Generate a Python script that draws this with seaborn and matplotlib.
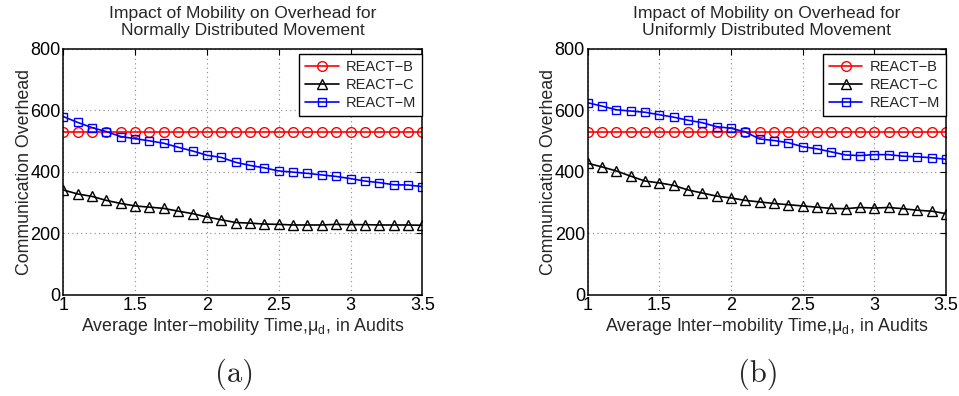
import numpy as np
import pandas as pd
import matplotlib
matplotlib.use("Agg")
import matplotlib.pyplot as plt
import seaborn as sns

# x axis: average inter-mobility time (audits)
x_vals = [1.0, 1.1, 1.2, 1.3, 1.4, 1.5, 1.6, 1.7, 1.8, 1.9, 2.0, 2.1, 2.2,
          2.3, 2.4, 2.5, 2.6, 2.7, 2.8, 2.9, 3.0, 3.1, 3.2, 3.3, 3.4, 3.5]

# (a) normally distributed movement
norm_b = [530, 530, 530, 530, 530, 530, 530, 530, 530, 530, 530, 530, 530,
          530, 530, 530, 530, 530, 530, 530, 530, 530, 530, 530, 530, 530]
norm_c = [341, 328, 320, 307, 297, 289, 285, 281, 272, 264, 253, 244, 235,
          233, 230, 229, 227, 227, 227, 229, 228, 228, 227, 227, 227, 226]
norm_m = [580, 561, 544, 531, 515, 508, 501, 493, 480, 468, 454, 447, 431,
          421, 413, 403, 399, 395, 390, 385, 378, 370, 365, 358, 357, 352]

# (b) uniformly distributed movement
unif_b = [530, 530, 530, 530, 530, 530, 530, 530, 530, 530, 530, 530, 530,
          530, 530, 530, 530, 530, 530, 530, 530, 530, 530, 530, 530, 530]
unif_c = [428, 416, 403, 386, 370, 364, 356, 341, 331, 321, 315, 307, 302,
          297, 293, 289, 285, 281, 280, 284, 282, 284, 280, 275, 272, 264]
unif_m = [625, 614, 602, 598, 594, 586, 578, 568, 560, 547, 542, 530, 507,
          502, 495, 482, 475, 465, 455, 453, 456, 456, 451, 449, 446, 441]

series_names = ["REACT\u2212B", "REACT\u2212C", "REACT\u2212M"]
titles = ["Impact of Mobility on Overhead for\nNormally Distributed Movement",
          "Impact of Mobility on Overhead for\nUniformly Distributed Movement"]
panel_tags = ["(a)", "(b)"]
x_ticks = [1, 1.5, 2, 2.5, 3, 3.5]
x_ticklabels = ["1", "1.5", "2", "2.5", "3", "3.5"]
y_ticks = [0, 200, 400, 600, 800]

sns.set_style("white")
plt.rcParams["font.family"] = ["Liberation Sans", "DejaVu Sans"]
plt.rcParams["mathtext.fontset"] = "custom"
plt.rcParams["mathtext.rm"] = "Liberation Sans"

styles = [("red", "o", 7), ("black", "^", 7.5), ("blue", "s", 6)]

fig = plt.figure(figsize=(9.59, 3.96), dpi=100)
ax_pos = [[0.0660, 0.2558, 0.3744, 0.6205],
          [0.6128, 0.2558, 0.3735, 0.6205]]

panels = [(norm_b, norm_c, norm_m), (unif_b, unif_c, unif_m)]

for i, data in enumerate(panels):
    ax = fig.add_axes(ax_pos[i])
    df = pd.DataFrame({"x": x_vals, series_names[0]: data[0],
                       series_names[1]: data[1], series_names[2]: data[2]})
    for name, (col, mk, ms) in zip(series_names, styles):
        sns.lineplot(data=df, x="x", y=name, ax=ax, color=col, marker=mk,
                     markersize=ms, markerfacecolor="none", markeredgecolor=col,
                     markeredgewidth=1.0, linewidth=1.2, label=name, legend=False)
    ax.set_xlim(1, 3.5)
    ax.set_ylim(0, 800)
    ax.set_xticks(x_ticks)
    ax.set_xticklabels(x_ticklabels)
    ax.set_yticks(y_ticks)
    ax.tick_params(direction="in", length=4, width=0.8, labelsize=13, pad=2,
                   top=True, right=True, colors="black")
    ax.grid(True, linestyle=(0, (1, 3)), color="#888888", linewidth=0.8)
    for sp in ax.spines.values():
        sp.set_color("black")
        sp.set_linewidth(1.1)
    ax.set_title(titles[i], fontsize=12.6, pad=10)
    ax.set_xlabel("Average Inter\u2212mobility Time,\u03bc$_\\mathregular{d}$, in Audits",
                  fontsize=12.8, labelpad=1)
    ax.set_ylabel("Communication Overhead", fontsize=12.8, labelpad=-2)
    leg = ax.legend(loc="upper right", bbox_to_anchor=(1.0, 0.98), borderaxespad=0,
                    fontsize=10.5, frameon=True, fancybox=False, framealpha=1,
                    edgecolor="black", handlelength=2.3, handletextpad=0.5,
                    labelspacing=0.3, borderpad=0.4)
    leg.get_frame().set_linewidth(1.0)
    ax.text(0.477, -0.325, panel_tags[i], transform=ax.transAxes, ha="center",
            va="center", fontsize=22, family="cmr10")

fig.savefig("out.png", dpi=100)
